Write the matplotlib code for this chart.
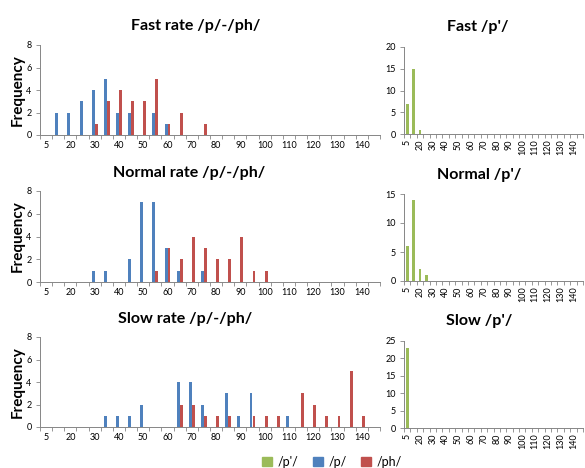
import numpy as np
import matplotlib
matplotlib.use("Agg")
import matplotlib.pyplot as plt
from matplotlib.patches import Patch

plt.rcParams["font.family"] = ["Lato", "DejaVu Sans"]

# bins (Excel histogram categories)
bins = ["5", "15", "20", "25", "30", "35", "40", "45", "50", "55", "60", "65",
        "70", "75", "80", "85", "90", "95", "100", "105", "110", "115", "120",
        "125", "130", "135", "140", "More"]

fast_p = [0, 2, 2, 3, 4, 5, 2, 2, 0, 2, 1, 0, 0, 0, 0, 0, 0, 0, 0, 0, 0, 0, 0, 0, 0, 0, 0, 0]
fast_ph = [0, 0, 0, 0, 1, 3, 4, 3, 3, 5, 1, 2, 0, 1, 0, 0, 0, 0, 0, 0, 0, 0, 0, 0, 0, 0, 0, 0]
normal_p = [0, 0, 0, 0, 1, 1, 0, 2, 7, 7, 3, 1, 0, 1, 0, 0, 0, 0, 0, 0, 0, 0, 0, 0, 0, 0, 0, 0]
normal_ph = [0, 0, 0, 0, 0, 0, 0, 0, 0, 1, 3, 2, 4, 3, 2, 2, 4, 1, 1, 0, 0, 0, 0, 0, 0, 0, 0, 0]
slow_p = [0, 0, 0, 0, 0, 1, 1, 1, 2, 0, 0, 4, 4, 2, 0, 3, 1, 3, 0, 0, 1, 0, 0, 0, 0, 0, 0, 0]
slow_ph = [0, 0, 0, 0, 0, 0, 0, 0, 0, 0, 0, 2, 2, 1, 1, 1, 0, 1, 1, 1, 0, 3, 2, 1, 1, 5, 1, 0]

fast_pp = [7, 15, 1, 0, 0, 0, 0, 0, 0, 0, 0, 0, 0, 0, 0, 0, 0, 0, 0, 0, 0, 0, 0, 0, 0, 0, 0, 0]
normal_pp = [6, 14, 2, 1, 0, 0, 0, 0, 0, 0, 0, 0, 0, 0, 0, 0, 0, 0, 0, 0, 0, 0, 0, 0, 0, 0, 0, 0]
slow_pp = [23, 0, 0, 0, 0, 0, 0, 0, 0, 0, 0, 0, 0, 0, 0, 0, 0, 0, 0, 0, 0, 0, 0, 0, 0, 0, 0, 0]

GREEN = "#9BBB59"
BLUE = "#4F81BD"
RED = "#C0504D"
AXIS = "#868686"

W, H = 585, 468
fig = plt.figure(figsize=(W / 100, H / 100), dpi=100)


def px_axes(x0, y0, x1, y1):
    # pixel box (top-left origin) -> figure axes
    return fig.add_axes([x0 / W, 1 - y1 / H, (x1 - x0) / W, (y1 - y0) / H])


def style(ax, ymax, ystep, rot):
    x = np.arange(len(bins))
    ax.set_xlim(-0.5, len(bins) - 0.5)
    ax.set_ylim(0, ymax)
    ax.set_yticks(np.arange(0, ymax + 1, ystep))
    ax.set_xticks(x[0:27:2])
    ax.set_xticklabels(bins[0:27:2], rotation=rot)
    ax.set_xticks(np.arange(-0.5, len(bins), 1), minor=True)
    ax.tick_params(axis="x", which="major", length=0, labelsize=6.5, pad=4)
    ax.tick_params(axis="x", which="minor", length=3, color=AXIS, width=0.6)
    ax.tick_params(axis="y", length=3, color=AXIS, width=0.6, labelsize=6.5, pad=3)
    for s in ["top", "right"]:
        ax.spines[s].set_visible(False)
    for s in ["left", "bottom"]:
        ax.spines[s].set_color(AXIS)
        ax.spines[s].set_linewidth(0.7)


left_boxes = [(40, 45, 380, 135), (40, 191, 380, 282), (40, 337, 380, 427)]
right_boxes = [(404, 47, 583, 134), (404, 194, 583, 281), (404, 341, 583, 428)]
left_titles = [("Fast rate /p/-/ph/", 196, 26), ("Normal rate /p/-/ph/", 189, 173),
               ("Slow rate /p/-/ph/", 185, 319)]
right_titles = [("Fast /p'/", 478, 27), ("Normal /p'/", 479, 175), ("Slow /p'/", 479, 321)]
pairs = [(fast_p, fast_ph), (normal_p, normal_ph), (slow_p, slow_ph)]
greens = [(fast_pp, 20), (normal_pp, 15), (slow_pp, 25)]

x = np.arange(len(bins))
for i in range(3):
    ax = px_axes(*left_boxes[i])
    p, ph = pairs[i]
    ax.bar(x - 0.12, p, width=0.24, color=BLUE)
    ax.bar(x + 0.12, ph, width=0.24, color=RED)
    style(ax, 8, 2, 0)
    t, tx, ty = left_titles[i]
    fig.text(tx / W, 1 - ty / H, t, ha="center", va="center", fontsize=11.5, fontweight="bold")
    b = left_boxes[i]
    fig.text(18 / W, 1 - (b[1] + b[3]) / 2 / H, "Frequency", rotation=90,
             ha="center", va="center", fontsize=11, fontweight="bold")

    ax2 = px_axes(*right_boxes[i])
    g, ymax = greens[i]
    ax2.bar(x, g, width=0.42, color=GREEN)
    style(ax2, ymax, 5, 90)
    t, tx, ty = right_titles[i]
    fig.text(tx / W, 1 - ty / H, t, ha="center", va="center", fontsize=11.5, fontweight="bold")

handles = [Patch(color=GREEN, label="/p'/"), Patch(color=BLUE, label="/p/"),
           Patch(color=RED, label="/ph/")]
fig.legend(handles=handles, loc="center", bbox_to_anchor=(332 / W, 1 - 462 / H), ncol=3,
           frameon=False, fontsize=9, handlelength=0.8, handleheight=0.8,
           handletextpad=0.4, columnspacing=1.2)

fig.savefig("out.png", dpi=100)
